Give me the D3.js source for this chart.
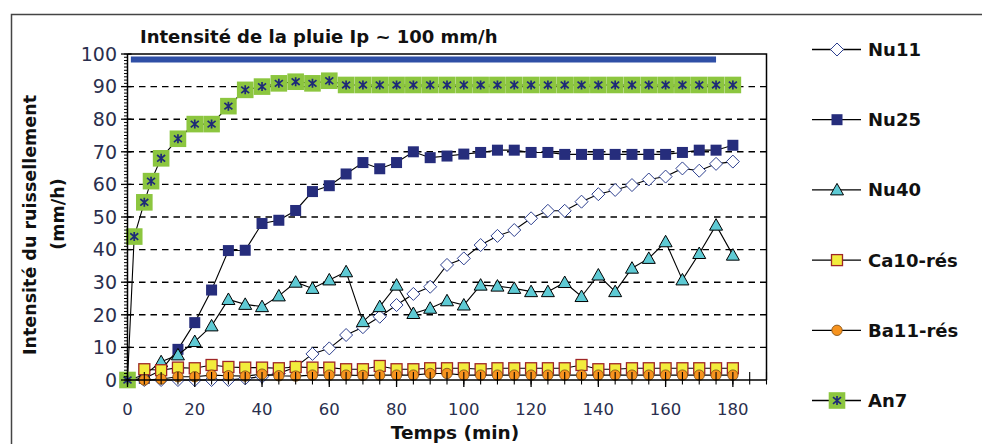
<!DOCTYPE html>
<html>
<head>
<meta charset="utf-8">
<script src="https://cdn.jsdelivr.net/npm/d3@7"></script>
<style>
  body { margin: 0; background: #fff; }
  svg { display: block; font-family: "DejaVu Sans", Verdana, sans-serif; }
</style>
</head>
<body>
<div id="chart"></div>
<script>
// minutes, one reading every 5 min
const time = [0, 5, 10, 15, 20, 25, 30, 35, 40, 45, 50, 55, 60, 65, 70, 75, 80, 85, 90,
  95, 100, 105, 110, 115, 120, 125, 130, 135, 140, 145, 150, 155, 160, 165, 170, 175, 180];
const timeRes = time.slice(1);
const timeAn7 = [0, 2, 5, 7, 10, 15, 20, 25, 30, 35, 40, 45, 50, 55, 60, 65, 70, 75, 80, 85, 90,
  95, 100, 105, 110, 115, 120, 125, 130, 135, 140, 145, 150, 155, 160, 165, 170, 175, 180];

const nu11 = [0, 0, 0, 0, 0, 0, 0, 0.5, 1, 2, 4, 8, 9.7, 13.8, 16.2, 19.4, 23, 26.4, 28.6,
  35.3, 37.3, 41.4, 44.2, 46, 49.6, 51.9, 51.9, 54.7, 57, 58.3, 59.8, 61.5, 62.4, 64.9, 64.2, 66.3, 67];
const nu25 = [0, 0.5, 3, 9.4, 17.6, 27.6, 39.7, 39.8, 48, 49, 52, 57.8, 59.6, 63.2, 66.7, 64.8, 66.7, 70, 68.2,
  68.7, 69.3, 69.8, 70.5, 70.5, 69.8, 69.8, 69.2, 69.2, 69.2, 69.2, 69.2, 69.2, 69.2, 69.8, 70.5, 70.5, 72];
const nu40 = [0, 1.5, 5.6, 7.7, 11.8, 16.6, 24.7, 23.2, 22.5, 25.8, 30, 28.1, 30.7, 33.2, 17.9, 22.5, 29.1, 20.4, 22,
  24.3, 23, 29.1, 28.8, 28.1, 27.1, 27.1, 29.9, 25.6, 32.2, 27.1, 34.3, 37.3, 42.4, 30.7, 38.8, 47.5, 38.3];
const ca10 = [3.3, 3, 3.8, 3.6, 4.6, 4, 3.8, 3.8, 3.6, 4, 3.8, 3.8, 3.3, 3.3, 4.3, 3.3, 3.3, 3.6,
  3.6, 3.6, 3.3, 3.6, 3.6, 3.6, 3.6, 3.6, 4.6, 3.3, 3.3, 3.6, 3.6, 3.6, 3.6, 3.6, 3.6, 3.6];
const ba11 = [0, 0.3, 1, 1, 1.5, 1.3, 1.2, 1.8, 1.3, 1.2, 1.5, 1.5, 1.5, 1.4, 1.5, 1.5, 1.5, 2,
  2, 1.5, 1.5, 1.5, 1.5, 1.5, 1.5, 1.5, 1.5, 1.5, 1.5, 1.5, 1.5, 1.5, 1.5, 1.5, 1.5, 1.5];
const an7 = [0, 44, 54.5, 61, 68, 74, 78.5, 78.5, 84, 89, 90, 91, 91.5, 91, 91.8, 90.5, 90.5, 90.5, 90.5, 90.5, 90.5,
  90.5, 90.5, 90.5, 90.5, 90.5, 90.5, 90.5, 90.5, 90.5, 90.5, 90.5, 90.5, 90.5, 90.5, 90.5, 90.5, 90.5, 90.5];
// rain intensity bar
const ipTime = [1, 175];
const ipValue = [98.3, 98.3];

const seriesNames = ["Nu11", "Nu25", "Nu40", "Ca10-rés", "Ba11-rés", "An7"];
const xTicks = [0, 20, 40, 60, 80, 100, 120, 140, 160, 180];
const yTicks = [0, 10, 20, 30, 40, 50, 60, 70, 80, 90, 100];

const W = 982, H = 444;
const plot = { left: 127.5, right: 766.5, top: 54, bottom: 380 };

const x = d3.scaleLinear().domain([0, 190]).range([plot.left, plot.right]);
const y = d3.scaleLinear().domain([0, 100]).range([plot.bottom, plot.top]);

const svg = d3.select("#chart").append("svg")
  .attr("width", W).attr("height", H);

// outer frame
svg.append("rect")
  .attr("x", 11.5).attr("y", 14.5).attr("width", 980).attr("height", 450)
  .attr("fill", "none").attr("stroke", "#444").attr("stroke-width", 1.5);

svg.append("text")
  .attr("x", 140).attr("y", 43)
  .style("font-size", "18px").style("font-weight", "bold").attr("fill", "#111")
  .text("Intensité de la pluie Ip ~ 100 mm/h");

// dashed grid
svg.append("g").selectAll("line")
  .data(yTicks.filter(d => d > 0 && d < 100))
  .enter().append("line")
  .attr("x1", plot.left).attr("x2", plot.right)
  .attr("y1", d => y(d)).attr("y2", d => y(d))
  .attr("stroke", "#000").attr("stroke-width", 1.4)
  .attr("stroke-dasharray", "6.5,5");

const line = d3.line().x(d => x(d[0])).y(d => y(d[1]));
const zip = (ts, vs) => ts.map((t, i) => [t, vs[i]]);

// Ip band
svg.append("path")
  .attr("d", line(zip(ipTime, ipValue)))
  .attr("stroke", "#2f4fa6").attr("stroke-width", 6).attr("fill", "none");

// marker builders
const markers = {
  "Nu11": g => g.append("path").attr("d", "M0,-6.5L6.5,0L0,6.5L-6.5,0Z")
    .attr("fill", "#fff").attr("stroke", "#2d3f8f").attr("stroke-width", 1),
  "Nu25": g => g.append("rect").attr("x", -5.5).attr("y", -5.5).attr("width", 11).attr("height", 11)
    .attr("fill", "#262d7c"),
  "Nu40": g => g.append("path").attr("d", "M0,-6.5L6.5,5L-6.5,5Z")
    .attr("fill", "#5ecad4").attr("stroke", "#000").attr("stroke-width", 1),
  "Ca10-rés": g => g.append("rect").attr("x", -5.5).attr("y", -5.5).attr("width", 11).attr("height", 11)
    .attr("fill", "#f2ec3c").attr("stroke", "#9e2626").attr("stroke-width", 1.3),
  "Ba11-rés": g => g.append("circle").attr("r", 5.2)
    .attr("fill", "#f7931e").attr("stroke", "#7a4a12").attr("stroke-width", 0.8),
  "An7": g => {
    g.append("rect").attr("x", -8.3).attr("y", -8.3).attr("width", 16.6).attr("height", 16.6)
      .attr("fill", "#8cc63f");
    g.append("path").attr("d", "M0,-4.5V4.5M-4,-3.3L4,3.3M-4,3.3L4,-3.3")
      .attr("stroke", "#1e2a78").attr("stroke-width", 1.7);
  }
};

const seriesData = {
  "Nu11": zip(time, nu11),
  "Nu25": zip(time, nu25),
  "Nu40": zip(time, nu40),
  "Ca10-rés": zip(timeRes, ca10),
  "Ba11-rés": zip(timeRes, ba11),
  "An7": zip(timeAn7, an7)
};

seriesNames.forEach(name => {
  const data = seriesData[name];
  const g = svg.append("g");
  g.append("path").attr("d", line(data))
    .attr("fill", "none").attr("stroke", "#000").attr("stroke-width", 1.1);
  g.selectAll("g.m").data(data).enter().append("g")
    .attr("class", "m")
    .attr("transform", d => `translate(${x(d[0])},${y(d[1])})`)
    .each(function () { markers[name](d3.select(this)); });
});

// plot frame (top and right)
svg.append("path")
  .attr("d", `M${plot.left},${plot.top}H${plot.right}V${plot.bottom}`)
  .attr("fill", "none").attr("stroke", "#000").attr("stroke-width", 1.5);

// y axis
const yAxis = svg.append("g").attr("transform", `translate(${plot.left},0)`);
yAxis.append("line").attr("y1", plot.top).attr("y2", plot.bottom).attr("stroke", "#000").attr("stroke-width", 1.5);
yAxis.selectAll("line.minor").data(d3.range(0, 101, 1)).enter().append("line")
  .attr("class", "minor").attr("x1", -3.5).attr("x2", 0)
  .attr("y1", d => y(d)).attr("y2", d => y(d)).attr("stroke", "#000").attr("stroke-width", 1);
yAxis.selectAll("line.major").data(yTicks).enter().append("line")
  .attr("class", "major").attr("x1", -6.5).attr("x2", 4)
  .attr("y1", d => y(d)).attr("y2", d => y(d)).attr("stroke", "#000").attr("stroke-width", 1.3);
yAxis.selectAll("text").data(yTicks).enter().append("text")
  .attr("x", -10.5).attr("y", d => y(d)).attr("dy", "0.36em")
  .attr("text-anchor", "end").attr("fill", "#2a2f4e")
  .style("font-size", "19px")
  .text(d => d);

// x axis
const xAxis = svg.append("g").attr("transform", `translate(0,${plot.bottom})`);
xAxis.append("line").attr("x1", plot.left).attr("x2", plot.right).attr("stroke", "#000").attr("stroke-width", 1.5);
xAxis.selectAll("line.minor").data(d3.range(0, 191, 5)).enter().append("line")
  .attr("class", "minor").attr("y1", -8).attr("y2", 4.5)
  .attr("x1", d => x(d)).attr("x2", d => x(d)).attr("stroke", "#000").attr("stroke-width", 1.1);
xAxis.selectAll("line.major").data(xTicks).enter().append("line")
  .attr("class", "major").attr("y1", 0).attr("y2", 7)
  .attr("x1", d => x(d)).attr("x2", d => x(d)).attr("stroke", "#000").attr("stroke-width", 1.3);
xAxis.selectAll("text").data(xTicks).enter().append("text")
  .attr("x", d => x(d)).attr("y", 35)
  .attr("text-anchor", "middle").attr("fill", "#2a2f4e")
  .style("font-size", "16.5px")
  .text(d => d);

svg.append("text")
  .attr("x", 455).attr("y", 439).attr("text-anchor", "middle")
  .style("font-size", "18.5px").style("font-weight", "bold").attr("fill", "#111")
  .text("Temps (min)");

// y title, two lines
svg.append("text")
  .attr("transform", "translate(36,225) rotate(-90)").attr("text-anchor", "middle")
  .style("font-size", "17.5px").style("font-weight", "bold").attr("fill", "#111")
  .text("Intensité du ruissellement");
svg.append("text")
  .attr("transform", "translate(64,214) rotate(-90)").attr("text-anchor", "middle")
  .style("font-size", "17.5px").style("font-weight", "bold").attr("fill", "#111")
  .text("(mm/h)");

// legend
const legend = svg.append("g").selectAll("g").data(seriesNames).enter().append("g")
  .attr("transform", (d, i) => `translate(837,${49.5 + i * 70.2})`);
legend.append("line").attr("x1", -25).attr("x2", 24)
  .attr("stroke", "#000").attr("stroke-width", 1.3);
legend.each(function (d) { markers[d](d3.select(this).append("g")); });
legend.append("text").attr("x", 31).attr("dy", "0.36em")
  .style("font-size", "18px").style("font-weight", "bold").attr("fill", "#111")
  .text(d => d);
</script>
</body>
</html>
